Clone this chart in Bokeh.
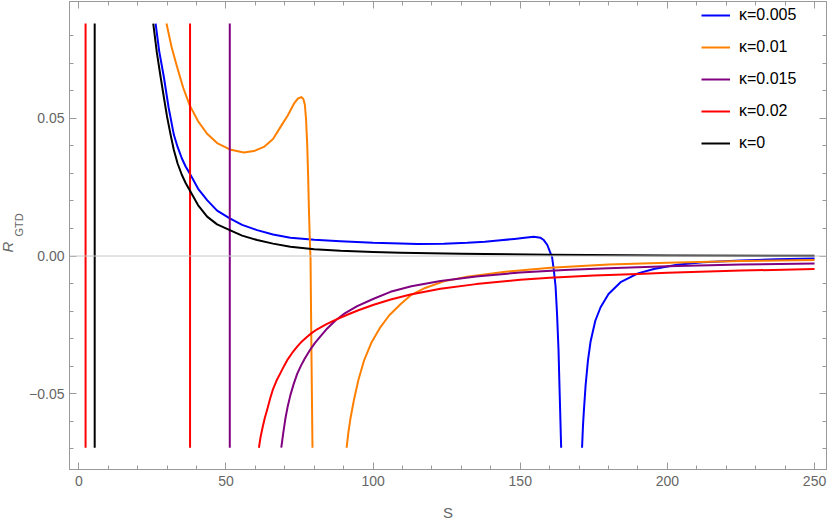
from bokeh.plotting import figure
from bokeh.models import Range1d, LinearAxis, FixedTicker, Span, Legend, LegendItem, Title
from bokeh.embed import file_html
from bokeh.resources import INLINE

nan = float("nan")
Y_TOP = 0.0844   # plot-range clip (top)
Y_BOT = -0.0696  # plot-range clip (bottom)

# ---------------- data ----------------
# kappa = 0
k0_vert_s = [5.4]
k0_s = [25.3, 26.5, 27.8, 29.0, 30.0, 31.2, 32.3, 33.6, 35.0, 36.3, 37.7, 40.5, 43.6, 47.0,
        51.3, 55.5, 60.6, 66.0, 71.9, 80.0, 88.9, 100.0, 109.3, 130.0, 160.0, 200.0, 250.0]
k0_r = [0.0844, 0.0740, 0.0650, 0.0570, 0.0505, 0.0440, 0.0385, 0.0335, 0.0295, 0.0265,
        0.0239, 0.0185, 0.0143, 0.0115, 0.0094, 0.0074, 0.0058, 0.0045, 0.0034, 0.0025,
        0.0019, 0.0015, 0.0012, 0.0008, 0.0005, 0.0002, 0.0001]

# kappa = 0.005
k1_s = [26.1, 27.3, 28.9, 30.5, 32.3, 33.6, 35.0, 36.3, 37.7, 40.5, 43.6, 47.0, 51.3, 55.5,
        60.6, 66.0, 71.9, 80.0, 88.9, 100.0, 109.3, 115.0, 124.0, 132.0, 138.0, 143.3,
        148.0, 151.5, 154.6, 156.9, 158.0, 159.2, 160.3, 160.8, 161.4, 162.0, 162.5,
        163.0, 163.4, 163.9]
k1_r = [0.0844, 0.0745, 0.0650, 0.0540, 0.0440, 0.0395, 0.0355, 0.0325, 0.0300, 0.0245,
        0.0203, 0.0165, 0.01365, 0.0113, 0.0094, 0.0078, 0.0066, 0.0059, 0.0054, 0.0048,
        0.00455, 0.0044, 0.0045, 0.0048, 0.0052, 0.0057, 0.0062, 0.0066, 0.0070, 0.0066,
        0.0058, 0.0040, 0.0010, -0.0003, -0.0050, -0.0110, -0.0210, -0.0340, -0.0500,
        -0.0696]
k1b_s = [171.0, 171.3, 171.6, 172.2, 173.0, 173.9, 175.5, 177.3, 180.0, 184.1, 190.0,
         195.4, 203.3, 212.0, 225.0, 237.0, 250.0]
k1b_r = [-0.0696, -0.0620, -0.0565, -0.0470, -0.0380, -0.0310, -0.0235, -0.0186, -0.0138,
         -0.0095, -0.0063, -0.0047, -0.0032, -0.0023, -0.0016, -0.0012, -0.0009]

# kappa = 0.01
k2_s = [29.8, 31.5, 33.4, 35.5, 37.7, 40.5, 43.6, 47.0, 51.3, 56.1, 59.5, 62.9, 66.0, 68.5,
        71.0, 73.1, 74.5, 75.6, 76.3, 76.8, 77.2, 77.6, 77.9, 78.2, 78.5, 78.75, 79.05, 79.4]
k2_r = [0.0844, 0.0760, 0.0686, 0.0610, 0.0547, 0.0490, 0.0444, 0.0410, 0.0387, 0.0376,
        0.0381, 0.0396, 0.0425, 0.0468, 0.0510, 0.0553, 0.0572, 0.0577, 0.0570, 0.0550,
        0.0500, 0.0408, 0.0300, 0.0167, 0.0060, -0.0015, -0.0350, -0.0696]
k2b_s = [91.0, 91.6, 92.3, 93.5, 95.0, 96.9, 99.5, 102.5, 105.5, 109.3, 113.0, 117.2, 124.0,
         132.0, 145.0, 160.3, 180.0, 199.9, 225.0, 250.0]
k2b_r = [-0.0696, -0.0640, -0.0590, -0.0522, -0.0450, -0.0380, -0.0313, -0.0258, -0.0215,
         -0.0175, -0.0141, -0.0118, -0.0092, -0.0075, -0.0057, -0.0043, -0.0031, -0.0024,
         -0.0018, -0.0014]

# kappa = 0.015
k3_vert_s = [51.3]
k3_s = [68.8, 69.5, 70.2, 71.0, 71.9, 73.0, 74.2, 75.5, 76.8, 78.5, 80.2, 82.1, 84.5, 87.2,
        90.5, 94.6, 100.0, 105.9, 113.0, 122.9, 135.0, 150.0, 165.0, 180.0, 200.0, 225.0,
        250.0]
k3_r = [-0.0696, -0.0640, -0.0590, -0.0545, -0.0505, -0.0465, -0.0428, -0.0398, -0.0372,
        -0.0342, -0.0316, -0.0292, -0.0262, -0.0234, -0.0207, -0.0182, -0.0156, -0.0130,
        -0.0110, -0.0091, -0.0074, -0.0060, -0.0051, -0.0044, -0.0037, -0.0031, -0.0027]

# kappa = 0.02
k4_vert_s = [2.3, 37.8]
k4_s = [61.2, 61.8, 62.5, 63.2, 64.0, 65.0, 66.0, 67.2, 68.5, 69.8, 71.0, 72.5, 74.2, 75.8,
        77.5, 79.2, 81.0, 84.0, 87.2, 91.0, 95.0, 100.2, 106.0, 112.7, 122.9, 135.0, 150.0,
        160.0, 175.0, 190.0, 200.0, 225.0, 250.0]
k4_r = [-0.0696, -0.0655, -0.0620, -0.0588, -0.0558, -0.0518, -0.0483, -0.0452, -0.0425,
        -0.0398, -0.0375, -0.0352, -0.0329, -0.0310, -0.0294, -0.0279, -0.0266, -0.0248,
        -0.0232, -0.0214, -0.0197, -0.0177, -0.0158, -0.0140, -0.0119, -0.0102, -0.0086,
        -0.0079, -0.0071, -0.0065, -0.0061, -0.0053, -0.0047]

labels = ["\u03ba=0.005", "\u03ba=0.01", "\u03ba=0.015", "\u03ba=0.02", "\u03ba=0"]
colors = ["#0000ff", "#ff8000", "#800080", "#ff0000", "#000000"]

x_major = [0, 50, 100, 150, 200, 250]
x_minor = [v * 10 for v in range(0, 26) if v % 5 != 0]
y_major = [-0.05, 0.0, 0.05]
y_minor = [-0.07, -0.06, -0.04, -0.03, -0.02, -0.01, 0.01, 0.02, 0.03, 0.04, 0.06, 0.07, 0.08]
x_tick_labels = {0: "0", 50: "50", 100: "100", 150: "150", 200: "200", 250: "250"}
y_tick_labels = {-0.05: "\u22120.05", 0.0: "0.00", 0.05: "0.05"}


def join(verts, branches):
    xs, ys = [], []
    for v in verts:
        if xs:
            xs.append(nan); ys.append(nan)
        xs += [v, v]; ys += [Y_BOT, Y_TOP]
    for bx, by in branches:
        if xs:
            xs.append(nan); ys.append(nan)
        xs += list(bx); ys += list(by)
    return xs, ys


series = [
    join([], [(k1_s, k1_r), (k1b_s, k1b_r)]),
    join([], [(k2_s, k2_r), (k2b_s, k2b_r)]),
    join(k3_vert_s, [(k3_s, k3_r)]),
    join(k4_vert_s, [(k4_s, k4_r)]),
    join(k0_vert_s, [(k0_s, k0_r)]),
]

FONT = "Liberation Sans"
GRAY = "#9a9a9a"
TXT = "#666666"

p = figure(width=830, height=523, output_backend="svg", toolbar_location=None,
           x_range=Range1d(-3.16, 254.06), y_range=Range1d(-0.0775, 0.0924),
           x_axis_type=None, y_axis_type=None,
           min_border_left=69, min_border_right=4, min_border_top=1, min_border_bottom=53)
p.xgrid.visible = False
p.ygrid.visible = False
p.outline_line_color = GRAY
p.background_fill_color = "white"
p.border_fill_color = "white"


def style(ax, tick_len_major=7, tick_len_minor=4):
    ax.axis_line_color = GRAY
    ax.major_tick_line_color = GRAY
    ax.minor_tick_line_color = GRAY
    ax.major_tick_in = tick_len_major
    ax.major_tick_out = 0
    ax.minor_tick_in = tick_len_minor
    ax.minor_tick_out = 0
    ax.major_label_text_font = FONT
    ax.major_label_text_color = TXT
    ax.major_label_text_font_size = "14px"


xb = LinearAxis(ticker=FixedTicker(ticks=x_major, minor_ticks=x_minor), axis_label="S")
style(xb)
xb.major_label_standoff = 6
xb.major_label_overrides = x_tick_labels
xb.axis_label_text_font = FONT
xb.axis_label_text_font_style = "normal"
xb.axis_label_text_font_size = "15px"
xb.axis_label_text_color = TXT
xb.axis_label_standoff = 15
p.add_layout(xb, "below")

yl = LinearAxis(ticker=FixedTicker(ticks=y_major, minor_ticks=y_minor))
style(yl)
yl.major_label_standoff = 5
yl.major_label_overrides = y_tick_labels
p.add_layout(yl, "left")

# y-axis label R_GTD: subscript (inner) and main letter (outer)
p.add_layout(Title(text="GTD", align="left", offset=233, standoff=3,
                   text_font=FONT, text_font_size="11px", text_font_style="normal",
                   text_color=TXT), "left")
p.add_layout(Title(text="R", align="left", offset=217, standoff=-13,
                   text_font=FONT, text_font_size="15px", text_font_style="italic",
                   text_color=TXT), "left")

# mirrored frame ticks (no labels) on top and right
for side, maj, mnr in (("above", x_major, x_minor), ("right", y_major, y_minor)):
    a1 = LinearAxis(ticker=FixedTicker(ticks=[], minor_ticks=maj))
    style(a1, tick_len_minor=7)
    p.add_layout(a1, side)
    a2 = LinearAxis(ticker=FixedTicker(ticks=[], minor_ticks=mnr))
    style(a2, tick_len_minor=4)
    p.add_layout(a2, side)

p.add_layout(Span(location=0, dimension="width", line_color="#c8c8c8", line_width=1))

items = []
for (xs, ys), lab, col in zip(series, labels, colors):
    r = p.line(xs, ys, line_color=col, line_width=2, line_join="round")
    items.append(LegendItem(label=lab, renderers=[r]))

legend = Legend(items=items, location="top_right", margin=5, padding=0, spacing=14,
                glyph_width=29, glyph_height=18, label_height=18, label_width=82,
                label_standoff=9, border_line_color=None, background_fill_alpha=0,
                label_text_font=FONT, label_text_font_size="16px",
                label_text_color="black")
p.add_layout(legend)

open("out.html", "w").write(file_html(p, INLINE))
